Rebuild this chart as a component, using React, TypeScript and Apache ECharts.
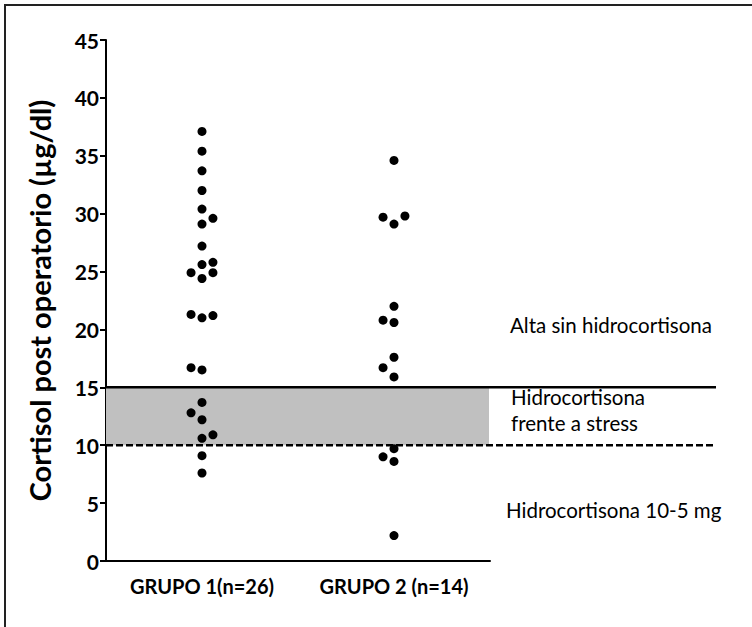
import React, { useEffect, useRef } from "react";
import * as echarts from "echarts";

const categories = ["GRUPO 1(n=26)", "GRUPO 2 (n=14)"];
// values, with the column offset of each dot (-1 left, 0 centre, 1 right)
const group1Values = [37.1, 35.4, 33.7, 32.0, 30.4, 29.6, 29.1, 27.2, 25.8, 25.6, 24.9, 24.9, 24.4, 21.3, 21.0, 21.2, 16.7, 16.5, 13.7, 12.8, 12.2, 10.9, 10.6, 9.1, 7.6];
const group1Cols = [0, 0, 0, 0, 0, 1, 0, 0, 1, 0, -1, 1, 0, -1, 0, 1, -1, 0, 0, -1, 0, 1, 0, 0, 0];
const group2Values = [34.6, 29.8, 29.7, 29.1, 22.0, 20.8, 20.6, 17.6, 16.7, 15.9, 9.7, 9.0, 8.6, 2.2];
const group2Cols = [0, 1, -1, 0, 0, -1, 0, 0, -1, 0, 0, -1, 0, 0];
const yTicks = [0, 45, 5]; // min, max, interval
const lowerLimit = 10;
const upperLimit = 15;
const zoneLabels = ["Alta sin hidrocortisona", "Hidrocortisona\nfrente a stress", "Hidrocortisona 10-5 mg"];

const FONT = "Lato, 'Open Sans', sans-serif";
const JITTER = 0.057;

export default function App() {
  const ref = useRef<HTMLDivElement>(null);
  useEffect(() => {
    if (!ref.current) return;
    const chart = echarts.init(ref.current, null, { renderer: "svg" });
    const pts = (vals: number[], cols: number[], g: number) =>
      vals.map((v, i) => [g + cols[i] * JITTER, v]);
    chart.setOption({
      animation: false,
      backgroundColor: "#fff",
      grid: [
        { left: 106, width: 384, top: 40, bottom: 66 },
        { left: 106, width: 610, top: 40, bottom: 66 },
      ],
      xAxis: [
        {
          type: "category",
          gridIndex: 0,
          data: categories,
          boundaryGap: true,
          axisLine: { lineStyle: { color: "#000", width: 2 } },
          axisTick: { alignWithLabel: true, interval: 0, length: 5, lineStyle: { color: "#000", width: 2 } },
          axisLabel: { interval: 0, color: "#000", fontFamily: FONT, fontWeight: "bold", fontSize: 20, margin: 15 },
          splitLine: { show: false },
        },
        { type: "value", gridIndex: 0, min: 0.5, max: 2.5, show: false, splitLine: { show: false } },
        { type: "value", gridIndex: 1, min: 0, max: 1, show: false, splitLine: { show: false } },
      ],
      yAxis: [
        {
          type: "value",
          gridIndex: 0,
          min: yTicks[0],
          max: yTicks[1],
          interval: yTicks[2],
          name: "Cortisol post operatorio (µg/dl)",
          nameLocation: "middle",
          nameGap: 52,
          nameTextStyle: { color: "#000", fontFamily: FONT, fontWeight: "bold", fontSize: 29 },
          axisLine: { show: true, lineStyle: { color: "#000", width: 2 } },
          axisTick: { show: true, length: 6, lineStyle: { color: "#000", width: 2 } },
          axisLabel: { color: "#000", fontFamily: FONT, fontWeight: "bold", fontSize: 21, margin: 7 },
          splitLine: { show: false },
        },
        { type: "value", gridIndex: 1, min: yTicks[0], max: yTicks[1], show: false, splitLine: { show: false } },
      ],
      series: [
        {
          type: "line",
          xAxisIndex: 2,
          yAxisIndex: 1,
          data: [[0, upperLimit], [1, upperLimit]],
          symbol: "none",
          lineStyle: { color: "#000", width: 2.5 },
          z: 2,
          markArea: {
            silent: true,
            itemStyle: { color: "#c0c0c0" },
            data: [[{ yAxis: lowerLimit, x: 106 }, { yAxis: upperLimit, x: 489 }]],
          },
        },
        {
          type: "line",
          xAxisIndex: 2,
          yAxisIndex: 1,
          data: [[0, lowerLimit], [1, lowerLimit]],
          symbol: "none",
          lineStyle: { color: "#000", width: 2.5, type: [7, 3] },
          z: 2,
        },
        {
          type: "scatter",
          xAxisIndex: 1,
          yAxisIndex: 0,
          data: pts(group1Values, group1Cols, 1),
          symbolSize: 9,
          itemStyle: { color: "#000", opacity: 1 },
          z: 5,
        },
        {
          type: "scatter",
          xAxisIndex: 1,
          yAxisIndex: 0,
          data: pts(group2Values, group2Cols, 2),
          symbolSize: 9,
          itemStyle: { color: "#000", opacity: 1 },
          z: 5,
        },
      ],
      graphic: [
        {
          type: "rect",
          shape: { x: 5, y: 5, width: 780, height: 660 },
          style: { fill: "none", stroke: "#222", lineWidth: 2 },
          silent: true,
          z: 0,
        },
        {
          type: "text",
          x: 510,
          y: 325,
          z: 10,
          style: { text: zoneLabels[0], fill: "#000", font: `20.5px ${FONT}`, verticalAlign: "middle" },
        },
        {
          type: "text",
          x: 511,
          y: 410,
          z: 10,
          style: { text: zoneLabels[1], fill: "#000", font: `20.5px ${FONT}`, verticalAlign: "middle", lineHeight: 26 },
        },
        {
          type: "text",
          x: 506,
          y: 510,
          z: 10,
          style: { text: zoneLabels[2], fill: "#000", font: `20.5px ${FONT}`, verticalAlign: "middle" },
        },
      ],
    });
    return () => chart.dispose();
  }, []);
  return <div ref={ref} style={{ position: "fixed", left: 0, top: 0, width: 752, height: 627 }} />;
}
